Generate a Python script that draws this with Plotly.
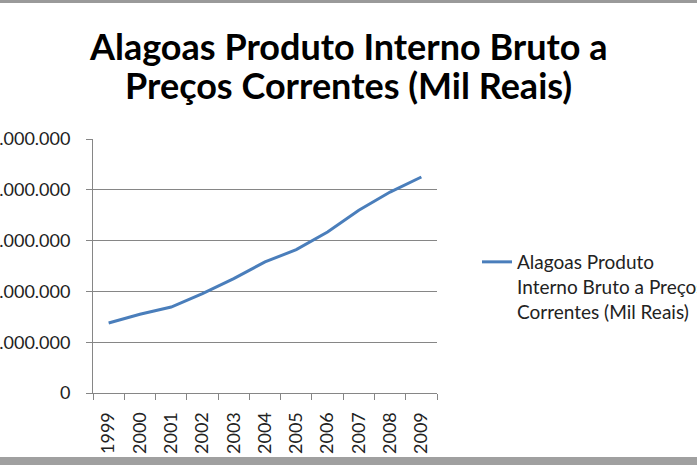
import plotly.graph_objects as go

years = ["1999", "2000", "2001", "2002", "2003", "2004", "2005", "2006", "2007", "2008", "2009"]
pib = [6890000, 7750000, 8460000, 9780000, 11260000, 12900000, 14110000, 15850000, 17980000, 19780000, 21260000]
y_tickvals = [0, 5000000, 10000000, 15000000, 20000000, 25000000]
y_ticktext = ["0", "5.000.000", "10.000.000", "15.000.000", "20.000.000", "25.000.000"]

title_lines = ["Alagoas Produto Interno Bruto a", "Preços Correntes (Mil Reais)"]
series_name = "Alagoas Produto<br>Interno Bruto a Preços<br>Correntes (Mil Reais)"

FONT = "Lato, 'Open Sans', sans-serif"

fig = go.Figure()
fig.add_trace(go.Scatter(
    x=years, y=pib, mode="lines", name=series_name,
    line=dict(color="#4A7EBB", width=3),
    showlegend=True,
))

W, H = 697, 465
ml, mr, mt, mb = 93, 260, 139, 72
PH = H - mt - mb


def py(page_y):
    # page pixel y -> paper coordinate
    return (H - mb - page_y) / PH


annotations = []
for line, yc in zip(title_lines, [46, 85]):
    annotations.append(dict(
        text="<b>" + line + "</b>", xref="paper", yref="paper",
        x=(W / 2 - ml) / (W - ml - mr), y=py(yc), xanchor="center", yanchor="middle",
        showarrow=False, font=dict(family=FONT, size=36, color="#000"),
    ))

fig.update_layout(
    width=W, height=H,
    margin=dict(l=ml, r=mr, t=mt, b=mb, autoexpand=False),
    paper_bgcolor="white", plot_bgcolor="white",
    font=dict(family=FONT, color="#222"),
    annotations=annotations,
    xaxis=dict(type="category", showgrid=False, showline=True, linecolor="#868686", linewidth=1,
               ticks="outside", ticklen=6, tickcolor="#868686", tickson="boundaries",
               tickangle=-90, tickfont=dict(size=18, color="#222"), ticklabelstandoff=11,
               range=[-0.5, len(years) - 0.5], automargin=False),
    yaxis=dict(range=[0, 25000000], tickvals=y_tickvals, ticktext=y_ticktext,
               showgrid=True, gridcolor="#868686", gridwidth=1,
               showline=True, linecolor="#868686", linewidth=1,
               ticks="outside", ticklen=6, tickcolor="#868686",
               tickfont=dict(size=18, color="#222"), ticklabelstandoff=12,
               zeroline=False, automargin=False),
    legend=dict(x=(477 - ml) / (W - ml - mr), xanchor="left", xref="paper",
                y=py(243), yanchor="top",
                font=dict(size=19, color="#222"), valign="top",
                bgcolor="rgba(0,0,0,0)", tracegroupgap=0),
    shapes=[
        dict(type="rect", xref="paper", yref="paper", xsizemode="pixel", ysizemode="pixel",
             xanchor=0, yanchor=1, x0=-ml, x1=W - ml, y0=mt, y1=mt - 3,
             fillcolor="#9a9a9a", line=dict(width=0)),
        dict(type="rect", xref="paper", yref="paper", xsizemode="pixel", ysizemode="pixel",
             xanchor=0, yanchor=0, x0=-ml, x1=W - ml, y0=-(mb - 8), y1=-mb,
             fillcolor="#a0a0a0", line=dict(width=0)),
    ],
)

fig.write_html("out.html", config={"displayModeBar": False},
               post_script="document.body.style.margin='0';")
